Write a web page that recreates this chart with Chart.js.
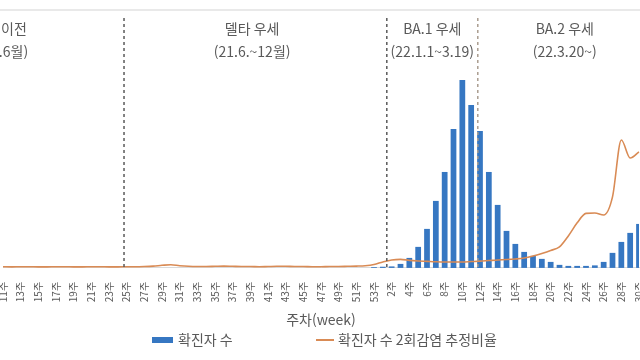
<!DOCTYPE html>
<html lang="ko">
<head>
<meta charset="utf-8">
<script src="https://cdn.jsdelivr.net/npm/chart.js@4.4.1/dist/chart.umd.min.js"></script>
<style>
  html, body { margin: 0; padding: 0; background: #fff; }
  #wrap { width: 640px; height: 360px; overflow: hidden; }
  #myChart { position: relative; left: -3px; }
</style>
</head>
<body>
<div id="wrap"><canvas id="myChart" width="660" height="360"></canvas></div>
<script>
// week labels (2021 wk11 .. wk53, then 2022 wk1 .. wk30)
const weeks = [
  '11주','12주','13주','14주','15주','16주','17주','18주','19주','20주',
  '21주','22주','23주','24주','25주','26주','27주','28주','29주','30주',
  '31주','32주','33주','34주','35주','36주','37주','38주','39주','40주',
  '41주','42주','43주','44주','45주','46주','47주','48주','49주','50주',
  '51주','52주','53주',
  '1주','2주','3주','4주','5주','6주','7주','8주','9주','10주',
  '11주','12주','13주','14주','15주','16주','17주','18주','19주','20주',
  '21주','22주','23주','24주','25주','26주','27주','28주','29주','30주'
];

// weekly confirmed cases (thousands)
const cases = [
  0,0,0,0,0,0,0,0,0,0,
  0,0,0,0,0,0,0,0,0,0,
  0,0,0,0,0,0,0,0,0,0,
  0,0,0,0,0,0,0,0,0,0,
  0,0,12,
  18,23,62,155,326,605,1039,1488,2155,2915,
  2527,2124,1488,977,574,372,248,186,140,93,
  47,31,31,31,39,93,233,403,543,682
];

// estimated share of reinfections among confirmed cases (%)
const reinfect = [
  0.06,0.05,0.06,0.06,0.05,0.05,0.06,0.06,0.05,0.05,
  0.06,0.06,0.05,0.05,0.06,0.06,0.07,0.09,0.13,0.16,
  0.11,0.08,0.07,0.07,0.08,0.09,0.08,0.07,0.07,0.06,
  0.07,0.08,0.08,0.07,0.07,0.06,0.06,0.07,0.07,0.08,
  0.09,0.11,0.17,
  0.30,0.40,0.43,0.38,0.35,0.33,0.31,0.30,0.30,0.30,
  0.32,0.34,0.37,0.40,0.42,0.45,0.50,0.60,0.73,0.88,
  1.06,1.61,2.27,2.75,2.77,2.67,3.58,6.45,5.54,5.85
];

// variant periods: name, dates, label centre (week index), start boundary (week index)
const periodNames = ['델타 이전', '델타 우세', 'BA.1 우세', 'BA.2 우세'];
const periodDates = ['(~21.6월)', '(21.6.~12월)', '(22.1.1~3.19)', '(22.3.20~)'];
const periodCentre = [-0.4, 28.2, 48.6, 63.6];
const periodStart = [null, 13.7, 43.45, 53.75];

const textGrey = '#595959';
const font = "'Noto Sans CJK KR', 'Noto Sans', sans-serif";
Chart.defaults.font.family = font;
Chart.defaults.color = textGrey;

const periodPlugin = {
  id: 'periods',
  afterDatasetsDraw(chart) {
    const {ctx, chartArea, scales} = chart;
    const x = scales.x;
    ctx.save();
    // frame line on top
    ctx.strokeStyle = '#e2e2e2';
    ctx.lineWidth = 1.5;
    ctx.beginPath();
    ctx.moveTo(0, 10);
    ctx.lineTo(chart.width, 10);
    ctx.stroke();

    periodStart.forEach((s, i) => {
      if (s === null) return;
      const px = x.getPixelForValue(s);
      ctx.strokeStyle = i === 3 ? '#ab9d90' : '#5a5a5a';
      ctx.lineWidth = 1.5;
      ctx.setLineDash([3, 3]);
      ctx.beginPath();
      ctx.moveTo(px, chartArea.top + 8);
      ctx.lineTo(px, chartArea.bottom);
      ctx.stroke();
    });
    ctx.setLineDash([]);
    ctx.fillStyle = textGrey;
    ctx.font = '14px ' + font;
    ctx.textAlign = 'center';
    ctx.textBaseline = 'middle';
    periodNames.forEach((n, i) => {
      const px = x.getPixelForValue(periodCentre[i]);
      ctx.fillText(n, px, 29);
      ctx.fillText(periodDates[i], px, 52);
    });
    ctx.restore();
  },
  afterDraw(chart) {
    // legend
    const {ctx} = chart;
    const ds = chart.data.datasets;
    ctx.save();
    ctx.font = '14px ' + font;
    ctx.textBaseline = 'middle';
    ctx.textAlign = 'left';
    const y = 340;
    ctx.fillStyle = ds[0].backgroundColor;
    ctx.fillRect(155, y - 3, 21, 6);
    ctx.fillStyle = textGrey;
    ctx.fillText(ds[0].label, 181, y);
    ctx.strokeStyle = ds[1].borderColor;
    ctx.lineWidth = 2;
    ctx.beginPath();
    ctx.moveTo(319, y);
    ctx.lineTo(337, y);
    ctx.stroke();
    ctx.fillText(ds[1].label, 341, y);
    ctx.restore();
  }
};

const ctx = document.getElementById('myChart');
new Chart(ctx, {
  data: {
    labels: weeks,
    datasets: [{
      type: 'bar',
      label: '확진자 수',
      data: cases,
      backgroundColor: '#3677c2',
      barPercentage: 0.65,
      categoryPercentage: 1,
      yAxisID: 'y',
      order: 2
    }, {
      type: 'line',
      label: '확진자 수 2회감염 추정비율',
      data: reinfect,
      borderColor: '#d98b55',
      borderWidth: 1.6,
      pointRadius: 0,
      cubicInterpolationMode: 'monotone',
      yAxisID: 'y1',
      order: 1
    }]
  },
  options: {
    responsive: false,
    animation: false,
    layout: { padding: { top: 10, left: 3, right: 1, bottom: 30 } },
    plugins: { legend: { display: false }, tooltip: { enabled: false } },
    scales: {
      x: {
        offset: false,
        grid: { display: false },
        border: { color: '#d9d9d9' },
        ticks: {
          autoSkip: false,
          minRotation: 90,
          maxRotation: 90,
          padding: 6,
          font: { size: 10 },
          color: textGrey,
          callback: (v, i) => (i % 2 === 0 ? weeks[i] : '')
        },
        title: {
          display: true,
          text: '주차(week)',
          color: textGrey,
          font: { size: 14 },
          padding: { top: 3, bottom: 2 }
        }
      },
      y: { display: false, min: 0, max: 4000 },
      y1: { display: false, min: 0, max: 13 }
    }
  },
  plugins: [periodPlugin]
});
</script>
</body>
</html>
